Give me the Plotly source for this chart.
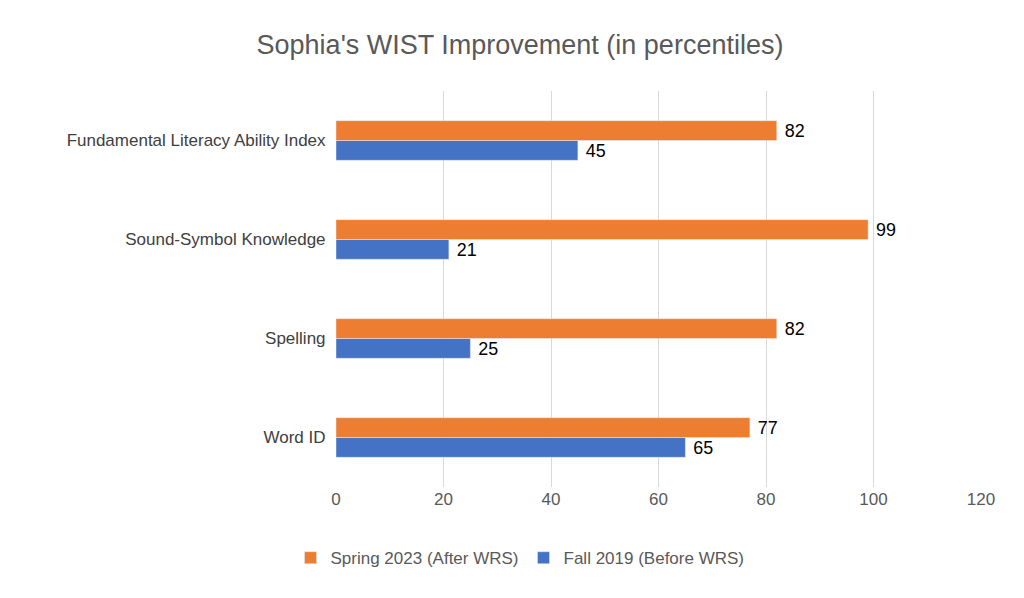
import plotly.graph_objects as go

categories = ["Word ID", "Spelling", "Sound-Symbol Knowledge", "Fundamental Literacy Ability Index"]
fall_2019 = [65, 25, 21, 45]
spring_2023 = [77, 82, 99, 82]
x_ticks = [0, 20, 40, 60, 80, 100, 120]

fig = go.Figure()
fig.add_trace(go.Bar(y=categories, x=fall_2019, orientation="h", name="Fall 2019 (Before WRS)",
                     marker_color="#4472C4", text=fall_2019, texttemplate=" %{x}", textposition="outside",
                     textfont=dict(size=19, color="black"), cliponaxis=False))
fig.add_trace(go.Bar(y=categories, x=spring_2023, orientation="h", name="Spring 2023 (After WRS)",
                     marker_color="#ED7D31", text=spring_2023, texttemplate=" %{x}", textposition="outside",
                     textfont=dict(size=19, color="black"), cliponaxis=False))

fig.update_layout(
    width=1024, height=598,
    title=dict(text="Sophia's WIST Improvement (in percentiles)", x=0.5, xref="container",
               y=0.955, font=dict(size=27, color="#595959")),
    font=dict(family="Liberation Sans", size=17, color="#404040"),
    barmode="group", bargap=0.6, bargroupgap=0,
    plot_bgcolor="white", paper_bgcolor="white",
    margin=dict(l=328, r=51, t=83, b=119),
    xaxis=dict(range=[0, 120], tickvals=x_ticks, showgrid=True, gridcolor="#D9D9D9",
               zeroline=False, tickfont=dict(size=17, color="#595959")),
    yaxis=dict(tickfont=dict(size=17, color="#404040"), ticksuffix="  ", showline=False),
    legend=dict(orientation="h", xref="container", x=0.5, xanchor="center",
                yref="container", y=0.08, yanchor="middle",
                traceorder="reversed", font=dict(size=17, color="#595959")),
)

fig.write_html("out.html")
